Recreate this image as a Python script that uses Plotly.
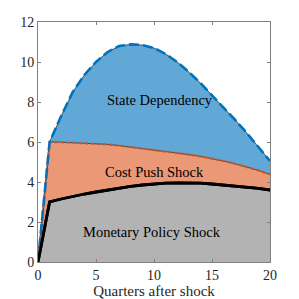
import plotly.graph_objects as go

quarters = list(range(0, 21))
monetary = [0, 3.0, 3.15, 3.28, 3.4, 3.5, 3.6, 3.7, 3.78, 3.85, 3.9, 3.94, 3.96, 3.96, 3.94, 3.9, 3.85, 3.8, 3.74, 3.68, 3.6]
cost_push = [0, 6.0, 5.99, 5.97, 5.95, 5.93, 5.88, 5.82, 5.75, 5.68, 5.6, 5.53, 5.45, 5.37, 5.28, 5.17, 5.05, 4.91, 4.75, 4.58, 4.38]
state_dep = [0, 6.0, 7.3, 8.5, 9.35, 10.0, 10.5, 10.8, 10.88, 10.85, 10.7, 10.4, 10.0, 9.5, 8.95, 8.35, 7.75, 7.1, 6.45, 5.75, 5.05]

FONT = "Liberation Serif"
fig = go.Figure()
fig.add_trace(go.Scatter(x=quarters, y=monetary, mode="lines", fill="tozeroy",
                         fillcolor="rgb(179,179,179)", line=dict(color="black", width=2.8)))
fig.add_trace(go.Scatter(x=quarters, y=cost_push, mode="lines", fill="tonexty",
                         fillcolor="rgb(234,152,118)", line=dict(color="black", width=0.6)))
fig.add_trace(go.Scatter(x=quarters, y=state_dep, mode="lines", fill="tonexty",
                         fillcolor="rgb(98,168,215)", line=dict(color="black", width=0.6)))
fig.add_trace(go.Scatter(x=quarters, y=cost_push, mode="lines",
                         line=dict(color="rgb(217,83,25)", width=2.2, dash="dot")))
fig.add_trace(go.Scatter(x=quarters, y=state_dep, mode="lines",
                         line=dict(color="rgb(0,114,189)", width=2.6, dash="10px,4px")))
fig.add_trace(go.Scatter(x=quarters, y=monetary, mode="lines",
                         line=dict(color="black", width=2.8)))

for txt, x, y in [("State Dependency", 10.5, 8.1), ("Cost Push Shock", 10.0, 4.5),
                  ("Monetary Policy Shock", 9.8, 1.5)]:
    fig.add_annotation(x=x, y=y, text=txt, showarrow=False,
                       font=dict(family=FONT, size=14.5, color="black"))

axis_common = dict(showline=True, mirror="ticks", linecolor="rgb(128,128,128)", linewidth=1,
                   ticks="inside", ticklen=3, tickcolor="rgb(128,128,128)",
                   showgrid=False, zeroline=False,
                   tickfont=dict(family=FONT, size=14, color="rgb(38,38,38)"))
fig.update_xaxes(range=[0, 20], tickvals=[0, 5, 10, 15, 20],
                 title=dict(text="Quarters after shock", font=dict(family=FONT, size=15, color="rgb(38,38,38)"), standoff=2),
                 **axis_common)
fig.update_yaxes(range=[0, 12], tickvals=[0, 2, 4, 6, 8, 10, 12], **axis_common)
fig.update_layout(width=291, height=291, showlegend=False,
                  margin=dict(l=30, r=29, t=14, b=37, autoexpand=False),
                  plot_bgcolor="white", paper_bgcolor="white")
fig.write_html("out.html")
